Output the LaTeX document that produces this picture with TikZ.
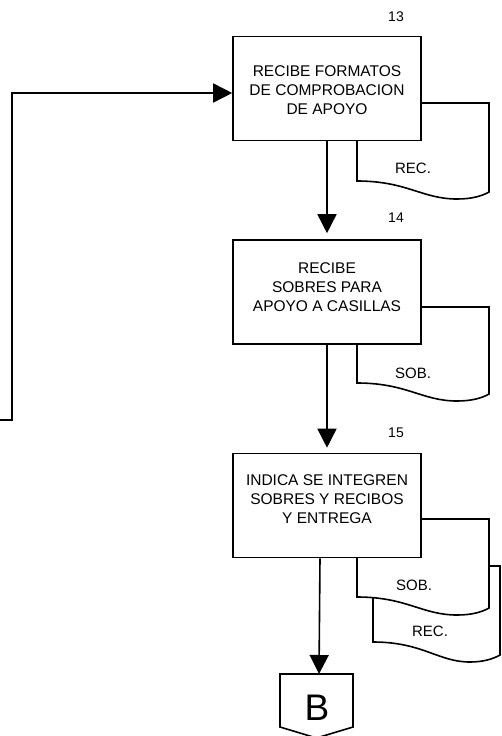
\documentclass[tikz,border=0pt]{standalone}
\usepackage{fontspec}
\setmainfont{Liberation Sans}
\usetikzlibrary{arrows.meta,calc}

% document symbol: left x, right x, top y, bottom-left y
\newcommand\docshape[4]{%
  \draw[docline] (#1,#3) -- (#2,#3) -- (#2,#4+11)
    .. controls (#2-7,#4+15) and (#2-17,#4+18) .. (#1+100,#4+18)
    .. controls (#1+65,#4+18) and (#1+50,#4) .. (#1,#4) -- cycle;}

\begin{document}
\begin{tikzpicture}[x=1pt,y=-1pt,
  box/.style={draw, line width=1.6pt, fill=white, minimum width=188pt,
    minimum height=104pt, inner sep=0pt},
  boxtext/.style={align=center, font=\fontsize{15.5}{19}\selectfont},
  num/.style={font=\fontsize{14}{16}\selectfont},
  doclabel/.style={font=\fontsize{15}{17}\selectfont},
  docline/.style={line width=1.6pt, fill=white, line join=miter},
  flow/.style={line width=1.6pt, -{Triangle[length=19pt,width=19pt]}},
  wire/.style={line width=1.6pt}]
\useasboundingbox (0,0) rectangle (501,736);

% documents attached to each step
\docshape{357}{489}{103}{181}
\docshape{357}{489}{307}{383}
\draw[docline] (373,566) -- (500,566) -- (500,655)
  .. controls (493,659) and (483,662) .. (470,662)
  .. controls (438,662) and (423,642) .. (373,642) -- cycle;
\docshape{357}{489}{519}{597}

\node[doclabel] (rec13) at (413,168) {REC.};
\node[doclabel] (sob14) at (413,373) {SOB.};
\node[doclabel] (rec15) at (430,631) {REC.};
\node[doclabel] (sob15) at (414,585) {SOB.};

% process steps
\node[box] (b13) at (327,88.5) {};
\node[box] (b14) at (327,292) {};
\node[box] (b15) at (327,505.5) {};

\node[boxtext] (t13) at (327,90) {RECIBE FORMATOS\\DE COMPROBACION\\DE APOYO};
\node[boxtext] (t14) at (327,287) {RECIBE\\SOBRES PARA\\APOYO A CASILLAS};
\node[boxtext] (t15) at (327,499.5) {INDICA SE INTEGREN\\SOBRES Y RECIBOS\\Y ENTREGA};

\node[num] (n13) at (396,17) {13};
\node[num] (n14) at (396,218) {14};
\node[num] (n15) at (396,433) {15};

% off-page connector B
\draw[wire, fill=white] (280,674) -- (353,674) -- (353,727) -- (316.5,738) -- (280,727) -- cycle;
\node[font=\fontsize{37}{40}\selectfont] (offB) at (317,708) {B};
\coordinate (tipB) at (319,674);

% connectors
\coordinate (inL) at (0,420);
\draw[flow] (inL) -| ($(b13.west)+(-220,4.5)$) -- ($(b13.west)+(0,4.5)$);
\draw[flow] (b13.south) -- ($(b14.north)+(0,-6)$);
\draw[flow] (b14.south) -- ($(b15.north)+(0,-5)$);
\draw[flow] ($(b15.south)+(-7,0)$) -- (tipB);
\end{tikzpicture}
\end{document}
